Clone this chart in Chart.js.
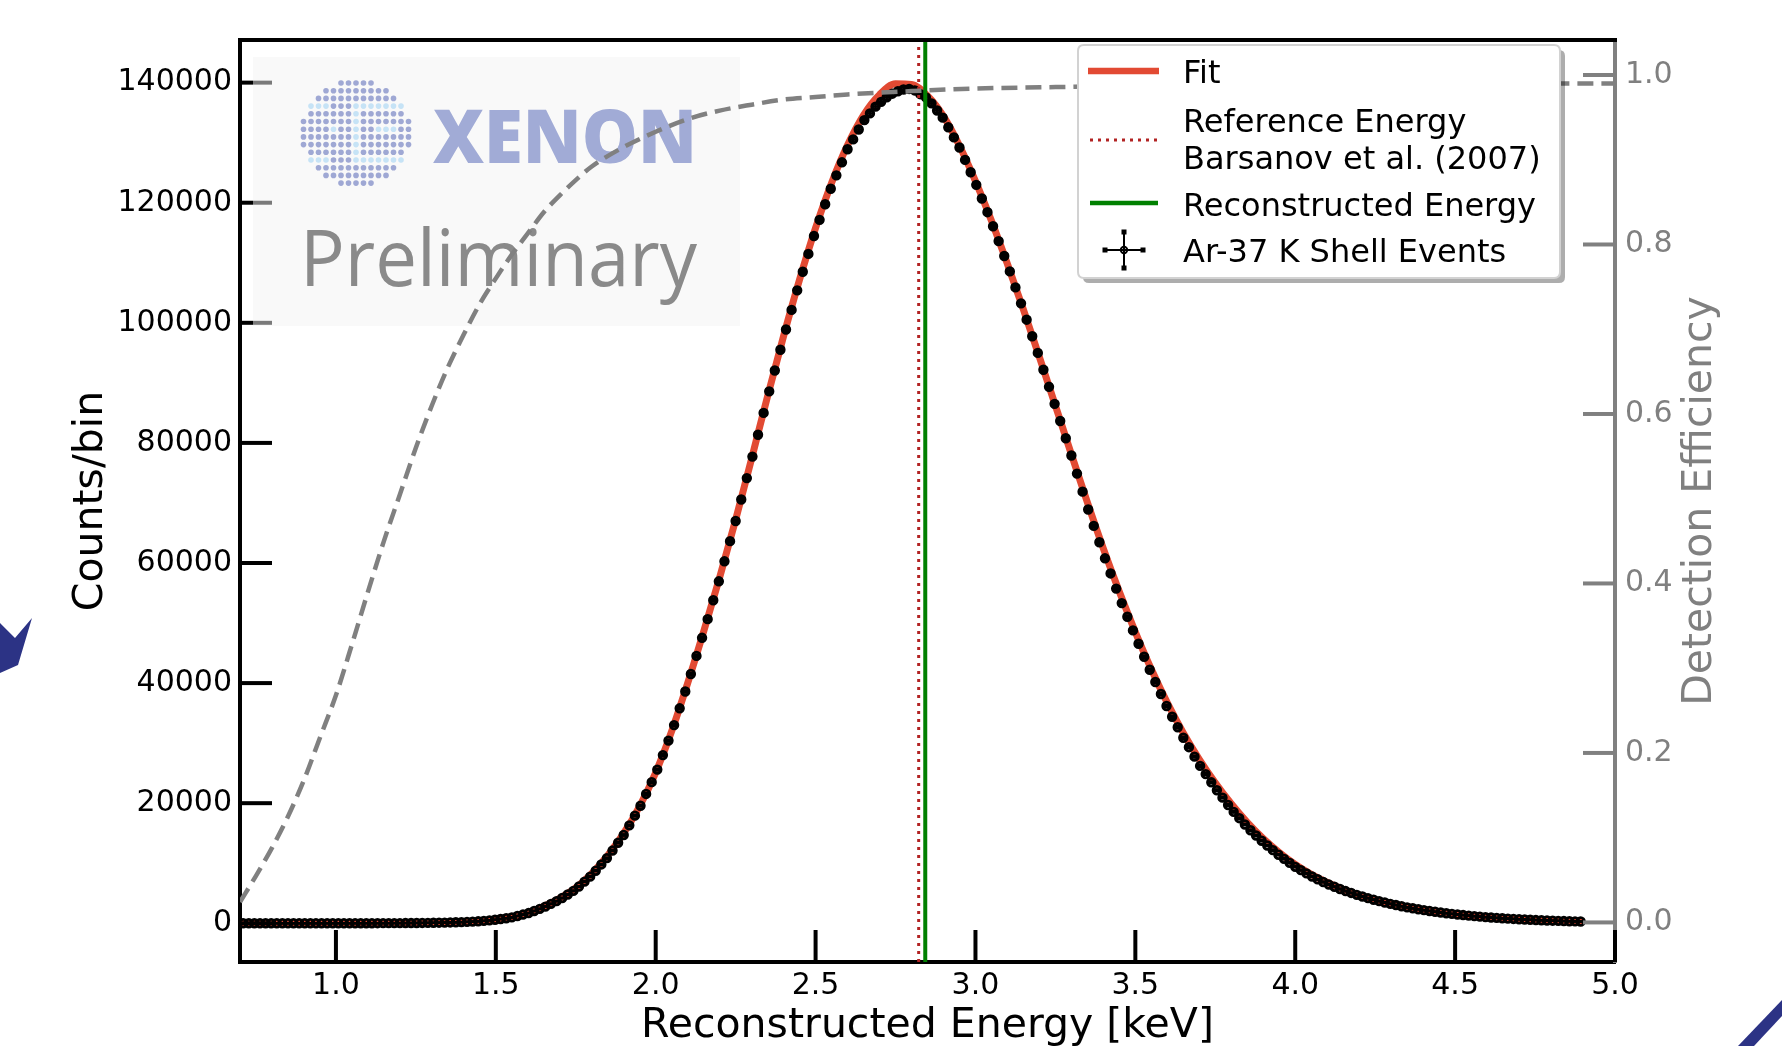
<!DOCTYPE html>
<html>
<head>
<meta charset="utf-8">
<title>Ar-37 K shell energy spectrum</title>
<script src="https://cdn.jsdelivr.net/npm/chart.js@4.4.1/dist/chart.umd.min.js"></script>
<style>
  html, body { margin: 0; padding: 0; background: #ffffff; }
  canvas { display: block; }
</style>
</head>
<body>
<canvas id="chart" width="1782" height="1046"></canvas>
<script>
// ---------------- data ----------------
// Bin centres of the reconstructed-energy histogram [keV]
const ENERGY_KEV = [
  0.71, 0.7275, 0.745, 0.7625, 0.78, 0.7975, 0.815, 0.8325, 0.85, 0.8675, 0.885, 0.9025, 0.92, 0.9375, 0.955, 0.9725, 0.99, 1.0075, 1.025, 1.0425,
  1.06, 1.0775, 1.095, 1.1125, 1.13, 1.1475, 1.165, 1.1825, 1.2, 1.2175, 1.235, 1.2525, 1.27, 1.2875, 1.305, 1.3225, 1.34, 1.3575, 1.375, 1.3925,
  1.41, 1.4275, 1.445, 1.4625, 1.48, 1.4975, 1.515, 1.5325, 1.55, 1.5675, 1.585, 1.6025, 1.62, 1.6375, 1.655, 1.6725, 1.69, 1.7075, 1.725, 1.7425,
  1.76, 1.7775, 1.795, 1.8125, 1.83, 1.8475, 1.865, 1.8825, 1.9, 1.9175, 1.935, 1.9525, 1.97, 1.9875, 2.005, 2.0225, 2.04, 2.0575, 2.075, 2.0925,
  2.11, 2.1275, 2.145, 2.1625, 2.18, 2.1975, 2.215, 2.2325, 2.25, 2.2675, 2.285, 2.3025, 2.32, 2.3375, 2.355, 2.3725, 2.39, 2.4075, 2.425, 2.4425,
  2.46, 2.4775, 2.495, 2.5125, 2.53, 2.5475, 2.565, 2.5825, 2.6, 2.6175, 2.635, 2.6525, 2.67, 2.6875, 2.705, 2.7225, 2.74, 2.7575, 2.775, 2.7925,
  2.81, 2.8275, 2.845, 2.8625, 2.88, 2.8975, 2.915, 2.9325, 2.95, 2.9675, 2.985, 3.0025, 3.02, 3.0375, 3.055, 3.0725, 3.09, 3.1075, 3.125, 3.1425,
  3.16, 3.1775, 3.195, 3.2125, 3.23, 3.2475, 3.265, 3.2825, 3.3, 3.3175, 3.335, 3.3525, 3.37, 3.3875, 3.405, 3.4225, 3.44, 3.4575, 3.475, 3.4925,
  3.51, 3.5275, 3.545, 3.5625, 3.58, 3.5975, 3.615, 3.6325, 3.65, 3.6675, 3.685, 3.7025, 3.72, 3.7375, 3.755, 3.7725, 3.79, 3.8075, 3.825, 3.8425,
  3.86, 3.8775, 3.895, 3.9125, 3.93, 3.9475, 3.965, 3.9825, 4.0, 4.0175, 4.035, 4.0525, 4.07, 4.0875, 4.105, 4.1225, 4.14, 4.1575, 4.175, 4.1925,
  4.21, 4.2275, 4.245, 4.2625, 4.28, 4.2975, 4.315, 4.3325, 4.35, 4.3675, 4.385, 4.4025, 4.42, 4.4375, 4.455, 4.4725, 4.49, 4.5075, 4.525, 4.5425,
  4.56, 4.5775, 4.595, 4.6125, 4.63, 4.6475, 4.665, 4.6825, 4.7, 4.7175, 4.735, 4.7525, 4.77, 4.7875, 4.805, 4.8225, 4.84, 4.8575, 4.875, 4.8925
];
// Ar-37 K shell events per bin
const COUNTS = [
  0, 0, 0, 0, 1, 1, 1, 1, 1, 1, 2, 2, 2, 3, 3, 3, 4, 4, 5, 6,
  7, 8, 10, 12, 15, 18, 21, 24, 28, 34, 40, 46, 57, 68, 80, 98, 115, 137, 165, 193,
  232, 280, 327, 402, 490, 578, 707, 844, 980, 1215, 1449, 1700, 2050, 2400, 2780, 3235, 3690, 4205, 4800, 5395,
  6120, 6943, 7765, 8750, 9800, 10850, 12110, 13405, 14700, 16310, 17920, 19580, 21540, 23500, 25590, 28005, 30420, 33000, 35800, 38600,
  41520, 44530, 47540, 50650, 53800, 56950, 60280, 63640, 67000, 70570, 74140, 77720, 81360, 85000, 88590, 92055, 95520, 98895, 102150, 105405,
  108500, 111475, 114450, 117150, 119740, 122330, 124560, 126730, 128900, 130545, 132190, 133760, 134880, 136000, 136800, 137565, 138160, 138560, 138850, 138950,
  138700, 138075, 137550, 136550, 135360, 134170, 132560, 130880, 129200, 127135, 125070, 122975, 120700, 118425, 116090, 113605, 111120, 108560, 105900, 103240,
  100520, 97755, 94990, 92175, 89340, 86505, 83640, 80770, 77900, 74890, 71880, 68910, 66180, 63450, 60780, 58260, 55740, 53325, 51050, 48775,
  46560, 44390, 42220, 40175, 38180, 36185, 34400, 32650, 30900, 29325, 27750, 26205, 24840, 23475, 22150, 20925, 19700, 18550, 17500, 16450,
  15500, 14625, 13750, 12950, 12180, 11410, 10730, 10065, 9400, 8858, 8315, 7785, 7330, 6875, 6445, 6078, 5710, 5365, 5050, 4735,
  4450, 4188, 3925, 3688, 3460, 3233, 3035, 2843, 2650, 2493, 2335, 2181, 2048, 1915, 1788, 1676, 1564, 1460, 1365, 1270,
  1184, 1104, 1023, 955, 892, 829, 775, 723, 670, 625, 579, 535, 500, 465, 431, 400, 368, 340, 315, 291
];
const BIN_HALF_WIDTH_KEV = 0.00875;

// Fitted peak model
const FIT_ENERGY_KEV = [
  0.70, 0.75, 0.80, 0.85, 0.90, 0.95, 1.00, 1.05, 1.10, 1.15, 1.20, 1.25, 1.30, 1.35, 1.40, 1.45, 1.50,
  1.55, 1.60, 1.65, 1.70, 1.75, 1.80, 1.85, 1.90, 1.95, 2.00, 2.05, 2.10, 2.15, 2.20, 2.25, 2.30, 2.35,
  2.40, 2.45, 2.50, 2.55, 2.60, 2.65, 2.70, 2.75, 2.80, 2.85, 2.90, 2.95, 3.00, 3.05, 3.10, 3.15, 3.20,
  3.25, 3.30, 3.35, 3.40, 3.45, 3.50, 3.55, 3.60, 3.65, 3.70, 3.75, 3.80, 3.85, 3.90, 3.95, 4.00, 4.05,
  4.10, 4.15, 4.20, 4.25, 4.30, 4.35, 4.40, 4.45, 4.50, 4.55, 4.60, 4.65, 4.70, 4.75, 4.80, 4.85, 4.90
];
const FIT_COUNTS = [
  0, 0, 1, 1, 2, 3, 4, 6, 10, 18, 29, 47, 78, 130, 212, 350, 600,
  1000, 1750, 2800, 4150, 5900, 8300, 11300, 15000, 19500, 25100, 32000, 40000, 48600, 57600, 67200, 77400, 87800,
  97800, 107200, 115800, 123300, 129600, 134600, 138000, 139800, 139700, 137800, 134400, 129500, 123600, 117000, 109800, 102200, 94300,
  86200, 78100, 70100, 62400, 55200, 48500, 42300, 36700, 31700, 27300, 23400, 19900, 16800, 14100, 11800, 9800, 8150,
  6800, 5650, 4700, 3900, 3250, 2700, 2250, 1850, 1520, 1250, 1020, 830, 680, 550, 450, 360, 290
];

// Detection efficiency (right axis)
const EFF_ENERGY_KEV = [
  0.70, 0.75, 0.80, 0.85, 0.90, 0.95, 1.00, 1.05, 1.10, 1.15, 1.20, 1.25, 1.30, 1.35, 1.40, 1.45, 1.50, 1.55, 1.60,
  1.65, 1.70, 1.75, 1.80, 1.90, 2.00, 2.10, 2.20, 2.30, 2.40, 2.50, 2.60, 2.80, 3.00, 3.30, 3.60, 4.00, 4.50, 5.00
];
const EFFICIENCY = [
  0.024, 0.055, 0.088, 0.125, 0.168, 0.218, 0.268, 0.328, 0.390, 0.450, 0.505, 0.560, 0.610, 0.655, 0.694, 0.730, 0.760, 0.788, 0.813,
  0.838, 0.858, 0.876, 0.892, 0.915, 0.933, 0.948, 0.958, 0.965, 0.971, 0.974, 0.977, 0.981, 0.984, 0.986, 0.988, 0.989, 0.990, 0.990
];

const REFERENCE_ENERGY_KEV = 2.8224;      // Barsanov et al. (2007)
const RECONSTRUCTED_ENERGY_KEV = 2.843;

const X_RANGE = [0.7, 5.0];
const Y_RANGE = [-6450, 147100];
const EFF_RANGE = [-0.0467, 1.0413];

const X_TICKS = [1.0, 1.5, 2.0, 2.5, 3.0, 3.5, 4.0, 4.5, 5.0];
const X_TICK_LABELS = ['1.0', '1.5', '2.0', '2.5', '3.0', '3.5', '4.0', '4.5', '5.0'];
const Y_TICKS = [0, 20000, 40000, 60000, 80000, 100000, 120000, 140000];
const Y_TICK_LABELS = ['0', '20000', '40000', '60000', '80000', '100000', '120000', '140000'];
const EFF_TICKS = [0.0, 0.2, 0.4, 0.6, 0.8, 1.0];
const EFF_TICK_LABELS = ['0.0', '0.2', '0.4', '0.6', '0.8', '1.0'];

// ---------------- styling ----------------
const FONT = '"DejaVu Sans", sans-serif';
const RED = '#e24a33';
const GREEN = '#008000';
const REF_RED = '#b22222';
const GREY = '#808080';
const TICK_LEN = 32;

function points(xs, ys) { return xs.map((x, i) => ({ x, y: ys[i] })); }

function line(ctx, x1, y1, x2, y2) {
  ctx.beginPath(); ctx.moveTo(x1, y1); ctx.lineTo(x2, y2); ctx.stroke();
}

function roundRect(ctx, x, y, w, h, r) {
  ctx.beginPath();
  ctx.moveTo(x + r, y);
  ctx.lineTo(x + w - r, y); ctx.quadraticCurveTo(x + w, y, x + w, y + r);
  ctx.lineTo(x + w, y + h - r); ctx.quadraticCurveTo(x + w, y + h, x + w - r, y + h);
  ctx.lineTo(x + r, y + h); ctx.quadraticCurveTo(x, y + h, x, y + h - r);
  ctx.lineTo(x, y + r); ctx.quadraticCurveTo(x, y, x + r, y);
  ctx.closePath();
}

// ticks pointing into the plot area
function drawInwardTicks(chart) {
  const { ctx, chartArea: a, scales } = chart;
  ctx.save();
  ctx.lineWidth = 4;
  ctx.strokeStyle = '#000';
  X_TICKS.forEach(v => { const p = scales.x.getPixelForValue(v); line(ctx, p, a.bottom, p, a.bottom - TICK_LEN); });
  Y_TICKS.forEach(v => { const p = scales.y.getPixelForValue(v); line(ctx, a.left, p, a.left + TICK_LEN, p); });
  ctx.strokeStyle = GREY;
  EFF_TICKS.forEach(v => { const p = scales.y2.getPixelForValue(v); line(ctx, a.right, p, a.right - TICK_LEN, p); });
  ctx.restore();
}

function fitText(ctx, text, font, x, baseline, width, color) {
  ctx.save();
  ctx.font = font;
  ctx.fillStyle = color;
  ctx.textAlign = 'left';
  ctx.textBaseline = 'alphabetic';
  const w = ctx.measureText(text).width;
  ctx.translate(x, baseline);
  ctx.scale(width / w, 1);
  ctx.fillText(text, 0, 0);
  ctx.restore();
}

function lightDot(k, j) {
  if ((j === 3 || j === 10) && (k <= 3 || k >= 7)) return true;
  if (k === 7 && j > 3 && j < 10) return true;
  if (j === 6 && (k === 4 || k === 10 || k === 11 || k === 12)) return true;
  return false;
}

// collaboration logo stamped in the upper-left corner
function drawLogo(ctx) {
  ctx.save();
  ctx.fillStyle = 'rgba(244,244,244,0.5)';
  ctx.fillRect(253, 57, 487, 269);
  const cx = 356, cy = 133, r = 54;
  for (let j = 0; j < 14; j++) {
    const dy = -50 + j * 7.7;
    for (let k = 0; k < 15; k++) {
      const dx = -52.5 + k * 7.5;
      if (dx * dx + dy * dy > r * r) continue;
      ctx.fillStyle = lightDot(k, j) ? '#c6e3f6' : '#9fa8d4';
      ctx.beginPath();
      ctx.arc(cx + dx, cy + dy, 2.8, 0, Math.PI * 2);
      ctx.fill();
    }
  }
  fitText(ctx, 'XENON', '800 74px "Open Sans", sans-serif', 433, 163, 264, '#a1abd6');
  fitText(ctx, 'Preliminary', '78px "Open Sans", sans-serif', 300, 286, 397, '#8a8a8a');
  ctx.restore();
}

function drawErrorBars(chart) {
  const { ctx, chartArea: a, scales: { x, y } } = chart;
  ctx.save();
  ctx.beginPath();
  ctx.rect(a.left, a.top, a.right - a.left, a.bottom - a.top);
  ctx.clip();
  ctx.strokeStyle = '#000';
  ctx.lineWidth = 2.4;
  const cap = 3;
  ENERGY_KEV.forEach((e, i) => {
    const n = COUNTS[i];
    const err = Math.sqrt(n);             // Poisson uncertainty
    const px = x.getPixelForValue(e);
    const l = x.getPixelForValue(e - BIN_HALF_WIDTH_KEV);
    const r = x.getPixelForValue(e + BIN_HALF_WIDTH_KEV);
    const py = y.getPixelForValue(n);
    const t = y.getPixelForValue(n + err);
    const b = y.getPixelForValue(n - err);
    line(ctx, l, py, r, py);
    line(ctx, px, t, px, b);
    line(ctx, l, py - cap, l, py + cap);
    line(ctx, r, py - cap, r, py + cap);
    line(ctx, px - cap, t, px + cap, t);
    line(ctx, px - cap, b, px + cap, b);
  });
  ctx.restore();
}

function drawLegend(ctx) {
  const L = 1078, T = 45, W = 482, H = 233;
  ctx.save();
  ctx.fillStyle = 'rgba(0,0,0,0.32)';
  roundRect(ctx, L + 5, T + 5, W, H, 6); ctx.fill();
  ctx.fillStyle = '#ffffff';
  roundRect(ctx, L, T, W, H, 6); ctx.fill();
  ctx.strokeStyle = '#d2d2d2'; ctx.lineWidth = 2;
  roundRect(ctx, L, T, W, H, 6); ctx.stroke();

  // handles
  ctx.lineCap = 'butt';
  ctx.strokeStyle = RED; ctx.lineWidth = 6.5;
  line(ctx, 1088, 71, 1159, 71);
  ctx.strokeStyle = REF_RED; ctx.lineWidth = 3; ctx.setLineDash([3, 5]);
  line(ctx, 1090, 140, 1158, 140);
  ctx.setLineDash([]);
  ctx.strokeStyle = GREEN; ctx.lineWidth = 4.5;
  line(ctx, 1090, 203, 1158, 203);
  ctx.strokeStyle = '#000'; ctx.lineWidth = 2;
  line(ctx, 1105, 250, 1143, 250);
  line(ctx, 1124, 232, 1124, 268);
  ctx.fillStyle = '#000';
  [[1105, 250], [1143, 250], [1124, 232], [1124, 268]].forEach(([qx, qy]) => ctx.fillRect(qx - 2.5, qy - 2.5, 5, 5));
  ctx.lineWidth = 2;
  ctx.beginPath(); ctx.arc(1124, 250, 3.2, 0, Math.PI * 2); ctx.stroke();

  // labels
  ctx.fillStyle = '#000';
  ctx.font = '32px ' + FONT;
  ctx.textAlign = 'left';
  ctx.textBaseline = 'alphabetic';
  ctx.fillText('Fit', 1183, 83);
  ctx.fillText('Reference Energy', 1183, 132);
  ctx.fillText('Barsanov et al. (2007)', 1183, 169);
  ctx.fillText('Reconstructed Energy', 1183, 216);
  ctx.fillText('Ar-37 K Shell Events', 1183, 262);
  ctx.restore();
}

function drawAxisTitles(chart) {
  const { ctx, chartArea: a } = chart;
  const midY = (a.top + a.bottom) / 2;
  ctx.save();
  ctx.font = '41px ' + FONT;
  ctx.textAlign = 'center';
  ctx.textBaseline = 'alphabetic';
  ctx.fillStyle = '#000';
  ctx.fillText('Reconstructed Energy [keV]', (a.left + a.right) / 2, 1037);

  ctx.save();
  ctx.translate(102, midY);
  ctx.rotate(-Math.PI / 2);
  ctx.fillText('Counts/bin', 0, 0);
  ctx.restore();

  ctx.save();
  ctx.fillStyle = GREY;
  ctx.translate(1711, midY);
  ctx.rotate(-Math.PI / 2);
  ctx.fillText('Detection Efficiency', 0, 0);
  ctx.restore();
  ctx.restore();
}

function drawFrameTop(chart) {
  const { ctx, chartArea: a } = chart;
  ctx.save();
  ctx.strokeStyle = '#000';
  ctx.lineWidth = 4;
  line(ctx, a.left - 2, a.top, a.right + 2, a.top);
  ctx.restore();
}

// slide ornaments at the page edges
function drawOrnaments(ctx) {
  ctx.save();
  ctx.fillStyle = '#2c3385';
  ctx.beginPath();
  ctx.moveTo(0, 623); ctx.lineTo(15, 638); ctx.lineTo(32, 618); ctx.lineTo(18, 665); ctx.lineTo(0, 673);
  ctx.closePath(); ctx.fill();
  ctx.beginPath();
  ctx.moveTo(1738, 1046); ctx.lineTo(1782, 1000); ctx.lineTo(1782, 1016); ctx.lineTo(1754, 1046);
  ctx.closePath(); ctx.fill();
  ctx.restore();
}

const overlays = {
  id: 'overlays',
  beforeDatasetDraw(chart, args) {
    const label = chart.data.datasets[args.index].label;
    if (label === 'Ar-37 K Shell Events') drawErrorBars(chart);
    if (label === 'Detection efficiency') {
      drawInwardTicks(chart);
      drawLogo(chart.ctx);
    }
  },
  afterDraw(chart) {
    drawFrameTop(chart);
    drawAxisTitles(chart);
    drawLegend(chart.ctx);
    drawOrnaments(chart.ctx);
  }
};

Chart.defaults.font.family = FONT;

const tickFont = { family: FONT, size: 30 };

new Chart(document.getElementById('chart'), {
  type: 'scatter',
  data: {
    datasets: [
      {
        label: 'Fit',
        data: points(FIT_ENERGY_KEV, FIT_COUNTS),
        showLine: true,
        borderColor: RED,
        backgroundColor: RED,
        borderWidth: 7,
        borderJoinStyle: 'round',
        pointRadius: 0,
        cubicInterpolationMode: 'monotone',
        yAxisID: 'y',
        order: 5
      },
      {
        label: 'Ar-37 K Shell Events',
        data: points(ENERGY_KEV, COUNTS),
        showLine: false,
        pointStyle: 'circle',
        pointRadius: 3.8,
        pointBorderWidth: 2.8,
        pointBorderColor: '#000000',
        pointBackgroundColor: 'rgba(0,0,0,0)',
        borderColor: '#000000',
        backgroundColor: 'rgba(0,0,0,0)',
        yAxisID: 'y',
        order: 4
      },
      {
        label: 'Reference Energy',
        data: [{ x: REFERENCE_ENERGY_KEV, y: Y_RANGE[0] }, { x: REFERENCE_ENERGY_KEV, y: Y_RANGE[1] }],
        showLine: true,
        borderColor: REF_RED,
        borderWidth: 3,
        borderDash: [3, 5],
        pointRadius: 0,
        yAxisID: 'y',
        order: 3
      },
      {
        label: 'Reconstructed Energy',
        data: [{ x: RECONSTRUCTED_ENERGY_KEV, y: Y_RANGE[0] }, { x: RECONSTRUCTED_ENERGY_KEV, y: Y_RANGE[1] }],
        showLine: true,
        borderColor: GREEN,
        borderWidth: 4,
        pointRadius: 0,
        yAxisID: 'y',
        order: 2
      },
      {
        label: 'Detection efficiency',
        data: points(EFF_ENERGY_KEV, EFFICIENCY),
        showLine: true,
        borderColor: GREY,
        borderWidth: 4.5,
        borderDash: [16, 8],
        pointRadius: 0,
        cubicInterpolationMode: 'monotone',
        yAxisID: 'y2',
        order: 0
      }
    ]
  },
  options: {
    responsive: false,
    animation: false,
    devicePixelRatio: 1,
    events: [],
    layout: { padding: { top: 40, left: 0, right: 0, bottom: 0 } },
    plugins: { legend: { display: false }, tooltip: { enabled: false } },
    scales: {
      x: {
        type: 'linear',
        position: 'bottom',
        min: X_RANGE[0],
        max: X_RANGE[1],
        afterBuildTicks: s => { s.ticks = X_TICKS.map(v => ({ value: v })); },
        afterFit: s => { s.height = 84; },
        grid: { display: false, drawTicks: false },
        border: { display: true, color: '#000', width: 4 },
        ticks: {
          font: tickFont, color: '#000', padding: 6, maxRotation: 0, autoSkip: false,
          callback: (v, i) => X_TICK_LABELS[i]
        }
      },
      y: {
        type: 'linear',
        position: 'left',
        min: Y_RANGE[0],
        max: Y_RANGE[1],
        afterBuildTicks: s => { s.ticks = Y_TICKS.map(v => ({ value: v })); },
        afterFit: s => { s.width = 240; },
        grid: { display: false, drawTicks: false },
        border: { display: true, color: '#000', width: 4 },
        ticks: {
          font: tickFont, color: '#000', padding: 8, autoSkip: false,
          callback: (v, i) => Y_TICK_LABELS[i]
        }
      },
      y2: {
        type: 'linear',
        position: 'right',
        min: EFF_RANGE[0],
        max: EFF_RANGE[1],
        afterBuildTicks: s => { s.ticks = EFF_TICKS.map(v => ({ value: v })); },
        afterFit: s => { s.width = 167; },
        grid: { display: false, drawTicks: false },
        border: { display: true, color: GREY, width: 4 },
        ticks: {
          font: tickFont, color: GREY, padding: 10, autoSkip: false,
          callback: (v, i) => EFF_TICK_LABELS[i]
        }
      }
    }
  },
  plugins: [overlays]
});
</script>
</body>
</html>
